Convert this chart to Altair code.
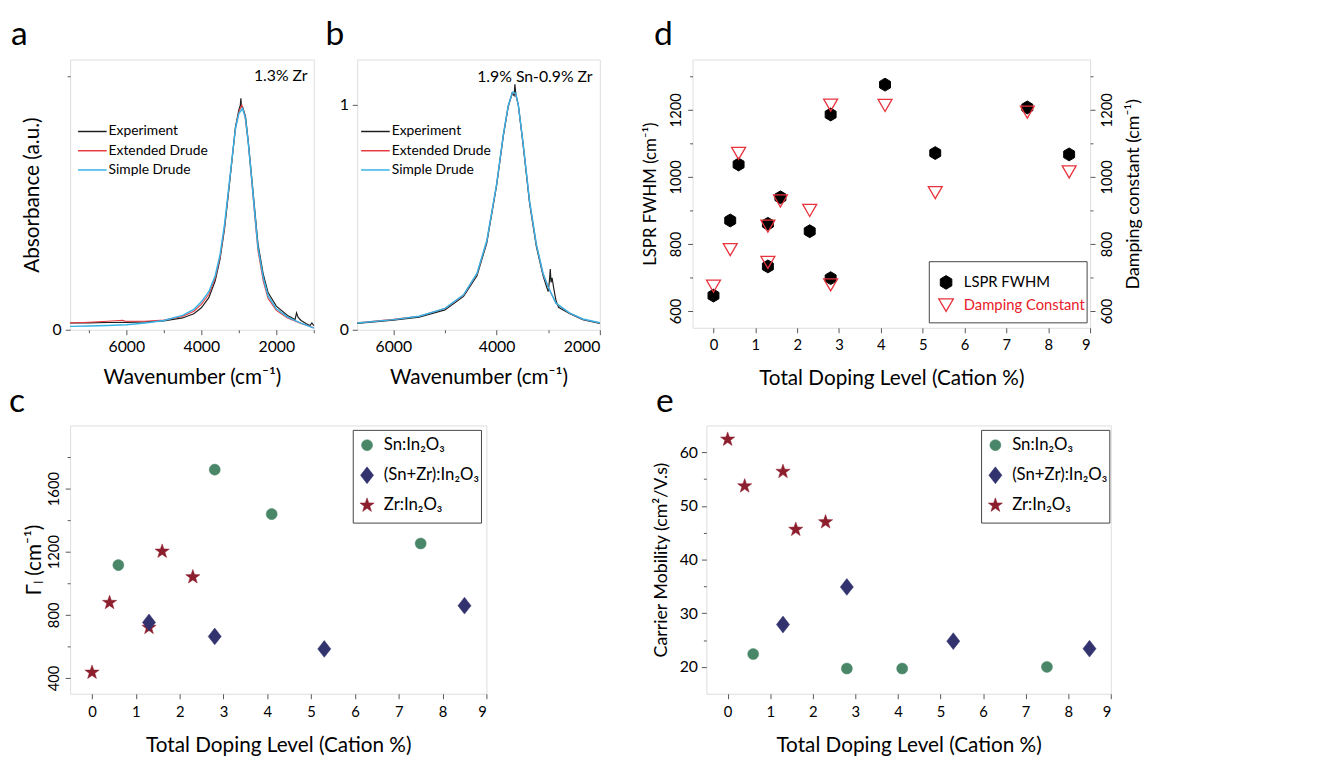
import altair as alt
import pandas as pd

FONT = "Lato"
FRAME = "#555555"

# ---------------- data ----------------
# panel a : 1.3% Zr spectra
a_exp_wn = [7500, 7000, 6500, 6000, 5500, 5000, 4500, 4200, 4000, 3800, 3630, 3500, 3380, 3280, 3170, 3090, 3000, 2960, 2945, 2930, 2900, 2820, 2750, 2660, 2570, 2490, 2350, 2220, 2000, 1700, 1500, 1460, 1420, 1340, 1200, 1100, 1050, 1000]
a_exp_val = [0.040, 0.041, 0.043, 0.044, 0.047, 0.053, 0.070, 0.095, 0.130, 0.190, 0.290, 0.420, 0.600, 0.800, 1.030, 1.200, 1.300, 1.330, 1.370, 1.320, 1.320, 1.260, 1.120, 0.910, 0.700, 0.510, 0.330, 0.220, 0.140, 0.085, 0.060, 0.100, 0.075, 0.055, 0.035, 0.025, 0.040, 0.025]
a_ext_wn = [7500, 7000, 6500, 6100, 6020, 5500, 5000, 4500, 4200, 4000, 3800, 3630, 3500, 3380, 3280, 3170, 3090, 3000, 2920, 2840, 2750, 2660, 2570, 2490, 2350, 2220, 2000, 1700, 1340, 1000]
a_ext_val = [0.040, 0.044, 0.050, 0.056, 0.050, 0.050, 0.057, 0.078, 0.110, 0.150, 0.210, 0.305, 0.430, 0.610, 0.810, 1.030, 1.190, 1.290, 1.330, 1.270, 1.110, 0.890, 0.660, 0.470, 0.290, 0.185, 0.115, 0.070, 0.037, 0.012]
a_sim_wn = [7500, 7000, 6500, 6000, 5500, 5000, 4500, 4200, 4000, 3800, 3630, 3500, 3380, 3280, 3170, 3090, 3000, 2900, 2820, 2750, 2660, 2570, 2490, 2350, 2220, 2000, 1700, 1340, 1000]
a_sim_val = [0.020, 0.022, 0.025, 0.030, 0.040, 0.055, 0.085, 0.120, 0.165, 0.225, 0.320, 0.445, 0.625, 0.820, 1.035, 1.190, 1.280, 1.310, 1.250, 1.110, 0.900, 0.680, 0.490, 0.310, 0.200, 0.124, 0.075, 0.039, 0.010]

# panel b : 1.9% Sn-0.9% Zr spectra
b_exp_wn = [6700, 6000, 5500, 5000, 4640, 4380, 4190, 4000, 3870, 3775, 3700, 3660, 3645, 3625, 3580, 3490, 3360, 3230, 3100, 3030, 3000, 2975, 2960, 2945, 2925, 2890, 2850, 2800, 2590, 2330, 2000]
b_exp_val = [0.028, 0.043, 0.056, 0.088, 0.148, 0.240, 0.385, 0.640, 0.860, 0.990, 1.050, 1.040, 1.090, 1.040, 1.000, 0.830, 0.560, 0.370, 0.240, 0.190, 0.170, 0.220, 0.270, 0.210, 0.230, 0.180, 0.130, 0.100, 0.072, 0.045, 0.028]
b_ext_wn = [6700, 6000, 5500, 5000, 4640, 4380, 4190, 4000, 3870, 3775, 3690, 3630, 3580, 3490, 3360, 3230, 3100, 3000, 2850, 2590, 2330, 2000]
b_ext_val = [0.031, 0.046, 0.060, 0.094, 0.154, 0.248, 0.393, 0.643, 0.863, 0.993, 1.052, 1.048, 0.998, 0.833, 0.568, 0.378, 0.249, 0.189, 0.117, 0.074, 0.047, 0.030]
b_sim_wn = [6700, 6000, 5500, 5000, 4640, 4380, 4190, 4000, 3870, 3775, 3690, 3630, 3580, 3490, 3360, 3230, 3100, 3000, 2850, 2590, 2330, 2000]
b_sim_val = [0.030, 0.045, 0.060, 0.095, 0.155, 0.250, 0.395, 0.645, 0.865, 0.995, 1.055, 1.050, 1.000, 0.835, 0.570, 0.380, 0.250, 0.190, 0.118, 0.075, 0.048, 0.031]

# panel d
d_doping = [0, 0.4, 0.6, 1.3, 1.3, 1.6, 2.3, 2.8, 2.8, 4.1, 5.3, 7.5, 8.5]
d_fwhm = [646, 870, 1037, 860, 733, 939, 838, 1186, 698, 1275, 1071, 1207, 1067]
d_damping = [674, 783, 1070, 853, 745, 928, 900, 1214, 678, 1213, 953, 1193, 1015]

# panels c and e
sn_x = [0.6, 2.8, 4.1, 7.5]
sn_gamma = [1115, 1720, 1438, 1252]
sn_mu = [22.4, 19.7, 19.7, 20.0]
snzr_x = [1.3, 2.8, 5.3, 8.5]
snzr_gamma = [752, 663, 584, 858]
snzr_mu = [27.9, 34.9, 24.8, 23.4]
zr_x = [0, 0.4, 1.3, 1.6, 2.3]
zr_gamma = [435, 877, 719, 1202, 1040]
zr_mu = [62.4, 53.7, 56.4, 45.6, 47.0]

SPEC_SERIES = ["Experiment", "Extended Drude", "Simple Drude"]
SPEC_COLORS = ["#1e1e1e", "#e8393f", "#35b3e6"]
MAT_SERIES = ["Sn:In\u2082O\u2083", "(Sn+Zr):In\u2082O\u2083", "Zr:In\u2082O\u2083"]
MAT_COLORS = ["#4a8769", "#32336e", "#8c1e2d"]
D_SERIES = ["LSPR FWHM", "Damping Constant"]
DIAMOND = "M0,-1L0.78,0L0,1L-0.78,0Z"
HEXAGON = "M0,-1L0.85,-0.5L0.85,0.5L0,1L-0.85,0.5L-0.85,-0.5Z"
STAR = ("M0,-1L0.235,-0.324L0.951,-0.309L0.38,0.124L0.588,0.809L0,0.4"
        "L-0.588,0.809L-0.38,0.124L-0.951,-0.309L-0.235,-0.324Z")
MAT_SHAPES = ["circle", DIAMOND, STAR]
MAT_SIZES = [125, 290, 230]
TRI_RED = "#e8323c"


# ---------------- helpers ----------------
def one():
    return alt.Chart(pd.DataFrame({"k": [0]}))


def box(w, h, left, right, top, bottom):
    return one().mark_rect(opacity=0).encode(
        x=alt.value(-left), x2=alt.value(w + right), y=alt.value(-top), y2=alt.value(h + bottom))


def ptext(t, x, y, size, color="black", align="left", baseline="middle"):
    return alt.Chart(pd.DataFrame({"t": [t]})).mark_text(
        fontSize=size, font=FONT, align=align, baseline=baseline, color=color
    ).encode(x=alt.value(x), y=alt.value(y), text="t:N")


def letter(ch, dx, dy):
    return ptext(ch, dx, dy, 34, baseline="alphabetic")


def psym(x, y, shape, size, fill, stroke, sw=1.0):
    return one().mark_point(shape=shape, size=size, fill=fill, stroke=stroke, strokeWidth=sw,
                            opacity=1).encode(x=alt.value(x), y=alt.value(y))


def prule(x1, x2, y, color, w):
    return one().mark_rule(color=color, strokeWidth=w).encode(
        x=alt.value(x1), x2=alt.value(x2), y=alt.value(y))


def pframe(x1, x2, y1, y2):
    return one().mark_rect(fillOpacity=0, stroke="#444444", strokeWidth=1).encode(
        x=alt.value(x1), x2=alt.value(x2), y=alt.value(y1), y2=alt.value(y2))


def axis(values, major, title, lsize=15, tsize=18, **kw):
    test = f"abs(datum.value % {major}) < 1e-6"
    return alt.Axis(values=values, labelExpr=f"({test}) ? datum.label : ''", format="d",
                    tickSize={"condition": {"test": f"!({test})", "value": 3}, "value": 5},
                    title=title, labelFontSize=lsize, titleFontSize=tsize, domain=False,
                    grid=False, tickColor=FRAME, labelFont=FONT, titleFont=FONT,
                    titleFontWeight="normal", labelColor="black", titleColor="black", **kw)


# ---------------- spectra panels ----------------
def spec_panel(series, dom, ymax, xvals, yvals, ch, ch_dx, note, note_x, note_y, leg_x, w, h, cell, extra):
    xax = axis(xvals, 2000, "Wavenumber (cm\u207b\u00b9)", lsize=16, tsize=21, labelPadding=4, titlePadding=12)
    yax = axis(yvals, 1, "Absorbance (a.u.)" if ch == "a" else None, lsize=16, tsize=21,
               labelPadding=4, titlePadding=10)
    xs = alt.Scale(domain=dom, reverse=True, nice=False, zero=False)
    ys = alt.Scale(domain=[0, ymax], nice=False)
    layers = [box(w, h, *cell), letter(ch, ch_dx, -15)] + extra
    for (wn, val), color, sw in zip(series, SPEC_COLORS, [1.2, 1.1, 1.5]):
        layers.append(alt.Chart(pd.DataFrame({"wn": wn, "val": val})).mark_line(color=color, strokeWidth=sw).encode(
            x=alt.X("wn:Q", scale=xs, axis=xax), y=alt.Y("val:Q", scale=ys, axis=yax)))
    layers.append(alt.Chart(pd.DataFrame({"wn": [note_x], "val": [note_y], "t": [note]})).mark_text(
        fontSize=16, font=FONT, align="right", baseline="middle", color="black"
    ).encode(x=alt.X("wn:Q", scale=xs, axis=xax), y=alt.Y("val:Q", scale=ys, axis=yax), text="t:N"))
    for i, (name, color) in enumerate(zip(SPEC_SERIES, SPEC_COLORS)):
        yy = 73 + 19.5 * i
        layers.append(prule(leg_x, leg_x + 29, yy, color, 1.5))
        layers.append(ptext(name, leg_x + 31, yy, 14))
    return alt.layer(*layers).properties(width=w, height=h)


panel_a = spec_panel([(a_exp_wn, a_exp_val), (a_ext_wn, a_ext_val), (a_sim_wn, a_sim_val)],
                     [1000, 7500], 1.6, [1000, 2000, 3000, 4000, 5000, 6000, 7000], [0, 0.5, 1, 1.5],
                     "a", -60, "1.3% Zr", 1165, 1.5, 8, 247, 274, (62, 5, 46, 90),
                     [letter("c", -62, 357)])
panel_b = spec_panel([(b_exp_wn, b_exp_val), (b_ext_wn, b_ext_val), (b_sim_wn, b_sim_val)],
                     [2000, 6700], 1.2, [2000, 3000, 4000, 5000, 6000], [0, 0.5, 1],
                     "b", -32, "1.9% Sn-0.9% Zr", 2140, 1.12, 4, 246, 274, (37, 25, 46, 90), [])

# ---------------- panel d ----------------
XDOPE = alt.Scale(domain=[-0.5, 9], nice=False, zero=False)
XVALS = [i / 2 for i in range(0, 19)]
xax_d = axis(XVALS, 1, "Total Doping Level (Cation %)", lsize=15, tsize=21, labelPadding=5, titlePadding=15)
yax_d = axis(list(range(600, 1301, 100)), 200, "LSPR FWHM (cm\u207b\u00b9)", lsize=15, tsize=17,
             labelAngle=270, labelAlign="center", labelBaseline="bottom", labelPadding=4, titlePadding=10)
yax_r = axis(list(range(600, 1301, 100)), 200, "Damping constant (cm\u207b\u00b9)", lsize=15, tsize=18,
             orient="right", labelAngle=270, labelAlign="center", labelBaseline="top", labelPadding=5,
             titleAngle=270, titleBaseline="top", titlePadding=10)
fwhm_pts = alt.Chart(pd.DataFrame({"x": d_doping, "v": d_fwhm})).mark_point(
    shape=HEXAGON, size=170, fill="black", stroke="black", strokeWidth=1, opacity=1
).encode(x=alt.X("x:Q", scale=XDOPE, axis=xax_d),
         y=alt.Y("v:Q", scale=alt.Scale(domain=[550, 1350], nice=False, zero=False), axis=yax_d))
damp_pts = alt.Chart(pd.DataFrame({"x": d_doping, "w": d_damping})).mark_point(
    shape="triangle-down", size=200, fill="transparent", stroke=TRI_RED, strokeWidth=1.3, opacity=1
).encode(x=alt.X("x:Q", scale=XDOPE, axis=xax_d),
         y=alt.Y("w:Q", scale=alt.Scale(domain=[550, 1350], nice=False, zero=False), axis=yax_r))
panel_d = alt.layer(
    box(403, 272, 67, 213, 46, 92), letter("d", -39, -15), letter("e", -37, 357), fwhm_pts, damp_pts,
    pframe(240, 400, 205, 267),
    psym(257, 226, HEXAGON, 190, "black", "black"),
    ptext(D_SERIES[0], 275, 226, 15),
    psym(257, 249, "triangle-down", 220, "transparent", TRI_RED, 1.3),
    ptext(D_SERIES[1], 275, 249, 15, color="#e8202a"),
).resolve_scale(y="independent").properties(width=403, height=272)


# ---------------- panels c and e ----------------
def mat_panel(yvals_list, yscale, yax, w, h, cell, leg_x0):
    xax = axis(XVALS, 1, "Total Doping Level (Cation %)", lsize=15, tsize=21, labelPadding=6, titlePadding=16)
    layers = [box(w, h, *cell)]
    groups = [(sn_x, yvals_list[0], 0), (snzr_x, yvals_list[1], 1), (zr_x, yvals_list[2], 2)]
    for xs_, ys_, i in [groups[2], groups[1], groups[0]]:
        layers.append(alt.Chart(pd.DataFrame({"x": xs_, "v": ys_})).mark_point(
            shape=MAT_SHAPES[i], size=MAT_SIZES[i], fill=MAT_COLORS[i], stroke=MAT_COLORS[i],
            strokeWidth=0.5, opacity=1
        ).encode(x=alt.X("x:Q", scale=XDOPE, axis=xax), y=alt.Y("v:Q", scale=yscale, axis=yax)))
    layers.append(pframe(leg_x0, leg_x0 + 130, 5, 99))
    for i in range(3):
        yy = 20 + 30.5 * i
        layers.append(psym(leg_x0 + 14, yy, MAT_SHAPES[i], MAT_SIZES[i], MAT_COLORS[i], MAT_COLORS[i], 0.5))
        layers.append(ptext(MAT_SERIES[i], leg_x0 + 31, yy, 17))
    return alt.layer(*layers).properties(width=w, height=h)


panel_c = mat_panel(
    [sn_gamma, snzr_gamma, zr_gamma], alt.Scale(domain=[300, 2000], nice=False, zero=False),
    axis(list(range(400, 1801, 200)), 400, "\u0393\u2097 (cm\u207b\u00b9)", lsize=15, tsize=21,
         labelAngle=270, labelAlign="center", labelBaseline="bottom", labelPadding=4, titlePadding=2),
    422, 272, (48, 162, 5, 62), 287)

panel_e = mat_panel(
    [sn_mu, snzr_mu, zr_mu], alt.Scale(domain=[15, 65], nice=False, zero=False),
    axis(list(range(20, 61, 5)), 10, "Carrier Mobility (cm\u00b2/V.s)", lsize=16, tsize=18,
         labelPadding=4, titlePadding=9),
    410, 272, (59, 204, 5, 62), 279)

row1 = alt.hconcat(panel_a, panel_b, panel_d, spacing=0)
row2 = alt.hconcat(panel_c, panel_e, spacing=0)
chart = alt.vconcat(row1, row2, spacing=0).properties(
    padding={"left": 0, "top": 0, "right": 0, "bottom": 0}
).configure_view(stroke=FRAME, strokeWidth=1).configure(font=FONT)

chart.save("out.html", embed_options={"renderer": "svg", "actions": False})
